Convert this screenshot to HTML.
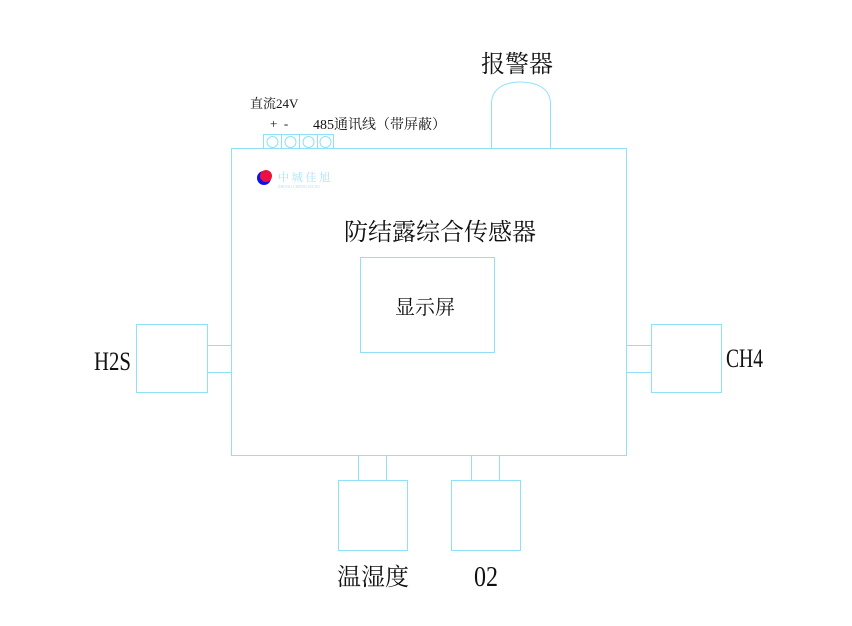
<html><body style="margin:0;background:#fff">
<svg width="852" height="626" xmlns="http://www.w3.org/2000/svg" style="font-family:'Liberation Serif','Noto Serif CJK SC',serif">
<g fill="none" stroke="#8fe0f8" stroke-width="1">
<rect x="231.5" y="148.5" width="395" height="307"/>
<path d="M491.5 148.5 V104 C491.5 88 505 82 520.5 82 C536 82 550.5 88 550.5 104 V148.5"/>
<rect x="360.5" y="257.5" width="134" height="95"/>
<rect x="136.5" y="324.5" width="71" height="68"/>
<rect x="207.5" y="345.5" width="24" height="27"/>
<rect x="626.5" y="345.5" width="25" height="27"/>
<rect x="651.5" y="324.5" width="70" height="68"/>
<rect x="358.5" y="455.5" width="28" height="25"/>
<rect x="338.5" y="480.5" width="69" height="70"/>
<rect x="471.5" y="455.5" width="28" height="25"/>
<rect x="451.5" y="480.5" width="69" height="70"/>
<rect x="263.5" y="134.5" width="18" height="14"/>
<rect x="281.5" y="134.5" width="18" height="14"/>
<rect x="299.5" y="134.5" width="18" height="14"/>
<rect x="317.5" y="134.5" width="16" height="14"/>
<circle cx="272.5" cy="142" r="5.5"/><circle cx="290.5" cy="142" r="5.5"/>
<circle cx="308.5" cy="142" r="5.5"/><circle cx="325.5" cy="142" r="5.5"/>
</g>
<circle cx="264" cy="178" r="7" fill="#1010ee"/>
<circle cx="266" cy="176" r="6" fill="#ee1040"/>
<text x="278" y="181" font-size="11" fill="#a8e4f8">中 城 佳 旭</text>
<text x="278" y="188" font-size="4" fill="#a8e4f8">ZHONG CHENG JIA XU</text>
<g fill="#111">
<text x="481" y="72" font-size="24">报警器</text>
<text x="250" y="108" font-size="13">直流24V</text>
<text x="270" y="128" font-size="13">+ &#160;-</text>
<text x="313" y="129" font-size="14">485通讯线（带屏蔽）</text>
<text x="344" y="240" font-size="24">防结露综合传感器</text>
<text x="395" y="314" font-size="20">显示屏</text>
<text x="94" y="370" font-size="26" textLength="37" lengthAdjust="spacingAndGlyphs">H2S</text>
<text x="726" y="367" font-size="26" textLength="37" lengthAdjust="spacingAndGlyphs">CH4</text>
<text x="337" y="585" font-size="24">温湿度</text>
<text x="474" y="586" font-size="28" textLength="24" lengthAdjust="spacingAndGlyphs">02</text>
</g>
</svg>
</body></html>
